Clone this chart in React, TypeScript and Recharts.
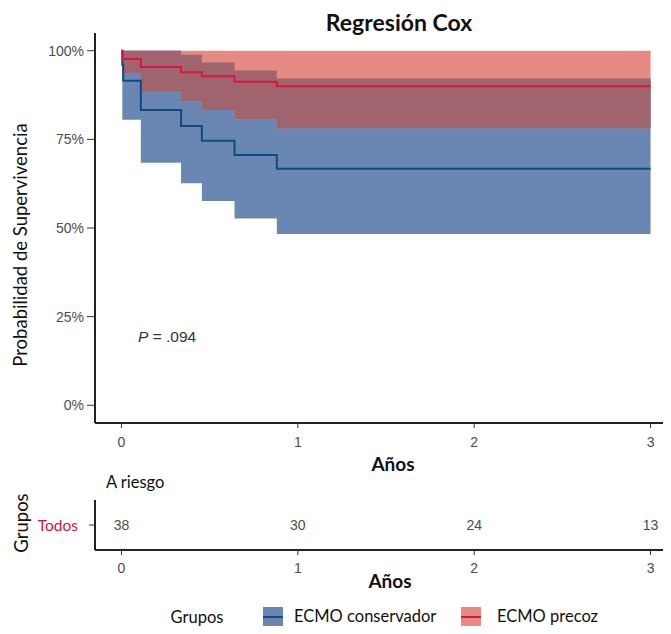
import React from 'react';
import { ComposedChart, Area, Line, Scatter, XAxis, YAxis } from 'recharts';

// event times (years) shared by both adjusted Cox curves
const times = [0, 0.005, 0.01, 0.11, 0.338, 0.456, 0.641, 0.881, 3];

// ECMO conservador
const conservadorSurv = [1, 0.96, 0.915, 0.833, 0.788, 0.746, 0.706, 0.667, 0.667];
const conservadorLower = [1, 0.805, 0.805, 0.684, 0.626, 0.576, 0.527, 0.483, 0.483];
const conservadorUpper = [1, 1, 1, 1, 0.989, 0.967, 0.944, 0.922, 0.922];

// ECMO precoz
const precozSurv = [1, 0.978, 0.977, 0.954, 0.939, 0.928, 0.9125, 0.9, 0.9];
const precozLower = [1, 0.936, 0.936, 0.884, 0.858, 0.833, 0.806, 0.781, 0.781];
const precozUpper = [1, 1, 1, 1, 1, 1, 1, 1, 1];

// at-risk table
const riskTimes = [0, 1, 2, 3];
const riskCounts = [38, 30, 24, 13];

const xTicks = [0, 1, 2, 3];
const yTicks = [0, 0.25, 0.5, 0.75, 1];

const BLUE_BAND = '#6987B2';
const RED_BAND = '#E58B83';
const OVERLAP = '#A0646F';
const BLUE_LINE = '#0F4C81';
const RED_LINE = '#D9163F';

const survData = times.map((t, i) => ({
  t,
  consS: conservadorSurv[i],
  consBand: [conservadorLower[i], conservadorUpper[i]],
  precS: precozSurv[i],
  precBand: [precozLower[i], precozUpper[i]],
  overlap: [
    Math.max(conservadorLower[i], precozLower[i]),
    Math.min(conservadorUpper[i], precozUpper[i]),
  ],
}));

const riskData = riskTimes.map((t, i) => ({ t, row: 1, n: riskCounts[i] }));

const calibri = 'Lato, "Open Sans", sans-serif';
const arial = '"Liberation Sans", Arial, sans-serif';
const tickStyle = { fontSize: 14, fill: '#4D4D4D', fontFamily: arial };

const Txt = ({ x, y, children, style }: any) => (
  <div
    style={{
      position: 'absolute',
      left: x,
      top: y,
      transform: 'translate(-50%, -50%)',
      whiteSpace: 'nowrap',
      lineHeight: 1,
      ...style,
    }}
  >
    {children}
  </div>
);

const RiskLabel = (props: any) => {
  const { cx, cy, payload } = props;
  return (
    <text x={cx} y={cy} dy="0.35em" textAnchor="middle" fontSize={14} fill="#4D4D4D" fontFamily={arial}>
      {payload.n}
    </text>
  );
};

const LEGEND_Y = 617;

const LegendKey = ({ x, band, line }: any) => (
  <div style={{ position: 'absolute', left: x, top: LEGEND_Y - 10, width: 20, height: 20, background: band }}>
    <div style={{ position: 'absolute', left: 0, top: 9, width: 20, height: 2, background: line }} />
  </div>
);

const App = () => {
  return (
    <div
      style={{
        position: 'relative',
        margin: -8,
        width: 671,
        height: 634,
        overflow: 'hidden',
        background: '#fff',
        fontFamily: calibri,
        color: '#111',
      }}
    >
      <div style={{ position: 'absolute', left: 0, top: 0 }}>
        <ComposedChart width={677} height={453} data={survData} margin={{ top: 33, right: 0, bottom: 0, left: 0 }}>
          <XAxis
            dataKey="t"
            type="number"
            domain={[-0.15, 3.15]}
            ticks={xTicks}
            allowDataOverflow
            height={30}
            tickSize={5}
            tickMargin={9}
            tick={tickStyle}
            axisLine={{ stroke: '#222', strokeWidth: 2 }}
            tickLine={{ stroke: '#333' }}
          />
          <YAxis
            type="number"
            domain={[-0.05, 1.05]}
            ticks={yTicks}
            allowDataOverflow
            width={95}
            tickSize={8}
            tickMargin={3}
            tick={tickStyle}
            tickFormatter={(v: number) => `${Math.round(v * 100)}%`}
            axisLine={{ stroke: '#222', strokeWidth: 2 }}
            tickLine={{ stroke: '#333' }}
          />
          <Area type="stepAfter" dataKey="consBand" fill={BLUE_BAND} fillOpacity={1} stroke="none" isAnimationActive={false} />
          <Area type="stepAfter" dataKey="precBand" fill={RED_BAND} fillOpacity={1} stroke="none" isAnimationActive={false} />
          <Area type="stepAfter" dataKey="overlap" fill={OVERLAP} fillOpacity={1} stroke="none" isAnimationActive={false} />
          <Line type="stepAfter" dataKey="consS" stroke={BLUE_LINE} strokeWidth={2} dot={false} isAnimationActive={false} />
          <Line type="stepAfter" dataKey="precS" stroke={RED_LINE} strokeWidth={2} dot={false} isAnimationActive={false} />
        </ComposedChart>
      </div>

      <div style={{ position: 'absolute', left: 0, top: 470 }}>
        <ComposedChart width={677} height={110} data={riskData} margin={{ top: 30, right: 0, bottom: 0, left: 0 }}>
          <XAxis
            dataKey="t"
            type="number"
            domain={[-0.15, 3.15]}
            ticks={xTicks}
            allowDataOverflow
            height={30}
            tickSize={5}
            tickMargin={8}
            tick={tickStyle}
            axisLine={{ stroke: '#222', strokeWidth: 2 }}
            tickLine={{ stroke: '#333' }}
          />
          <YAxis
            dataKey="row"
            type="number"
            domain={[0, 2]}
            ticks={[1]}
            width={95}
            tickSize={6}
            tickMargin={11}
            tick={{ fontSize: 15.5, fill: '#C8173F', fontFamily: calibri }}
            tickFormatter={() => 'Todos'}
            axisLine={{ stroke: '#222', strokeWidth: 2 }}
            tickLine={{ stroke: '#333' }}
          />
          <Scatter dataKey="row" shape={RiskLabel} isAnimationActive={false} />
        </ComposedChart>
      </div>

      <Txt x={399} y={22} style={{ fontSize: 23, fontWeight: 700 }}>Regresión Cox</Txt>
      <Txt x={20} y={245} style={{ fontSize: 18.5, transform: 'translate(-50%, -50%) rotate(-90deg)' }}>
        Probabilidad de Supervivencia
      </Txt>
      <div style={{ position: 'absolute', left: 138, top: 328, fontSize: 15.5, fontFamily: arial, color: '#333', whiteSpace: 'nowrap' }}>
        <i>P</i> = .094
      </div>
      <Txt x={393} y={463} style={{ fontSize: 19, fontWeight: 700 }}>Años</Txt>
      <div style={{ position: 'absolute', left: 106, top: 472, fontSize: 16.5, whiteSpace: 'nowrap' }}>A riesgo</div>
      <Txt x={21} y={523} style={{ fontSize: 18.5, transform: 'translate(-50%, -50%) rotate(-90deg)' }}>Grupos</Txt>
      <Txt x={390} y={580} style={{ fontSize: 19, fontWeight: 700 }}>Años</Txt>

      <Txt x={197} y={LEGEND_Y} style={{ fontSize: 16.5 }}>Grupos</Txt>
      <LegendKey x={263} band={BLUE_BAND} line={BLUE_LINE} />
      <div style={{ position: 'absolute', left: 294, top: LEGEND_Y - 9, fontSize: 16.5, lineHeight: 1, whiteSpace: 'nowrap' }}>ECMO conservador</div>
      <LegendKey x={461} band={RED_BAND} line={RED_LINE} />
      <div style={{ position: 'absolute', left: 497, top: LEGEND_Y - 9, fontSize: 16.5, lineHeight: 1, whiteSpace: 'nowrap' }}>ECMO precoz</div>
    </div>
  );
};

export default App;
